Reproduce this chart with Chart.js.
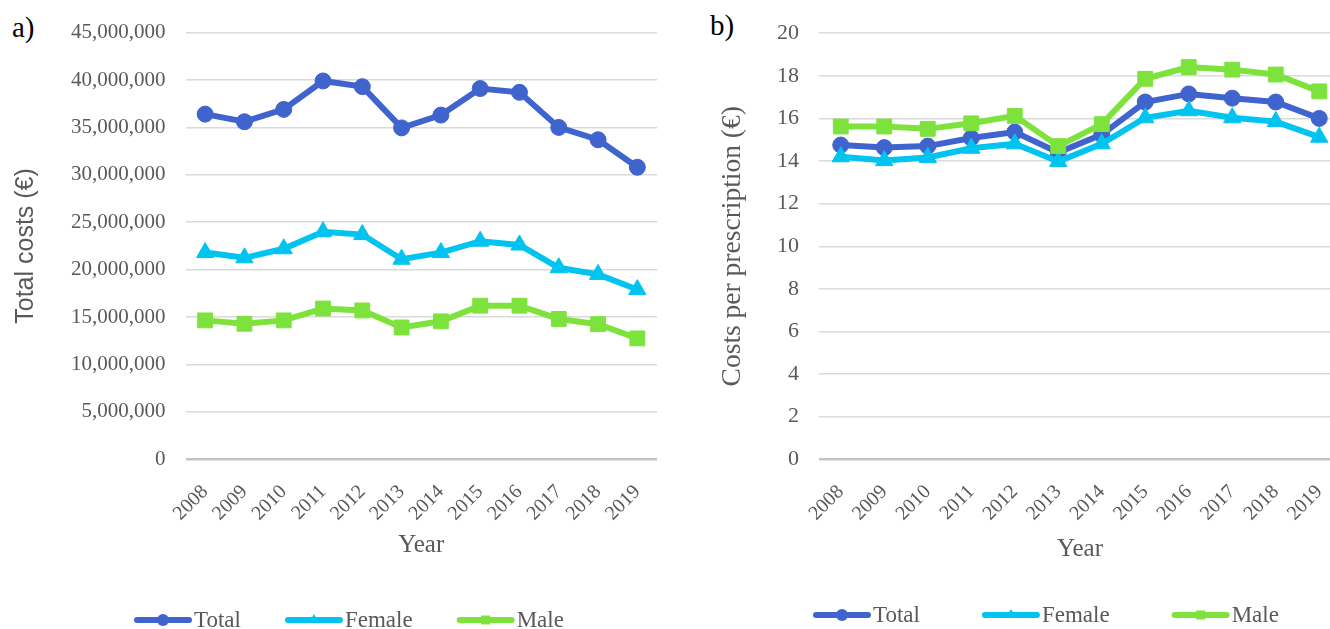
<!DOCTYPE html>
<html>
<head>
<meta charset="utf-8">
<script src="https://cdn.jsdelivr.net/npm/chart.js@4.4.1/dist/chart.umd.min.js"></script>
<style>
  html, body { margin: 0; padding: 0; background: #fff; overflow: hidden; width: 1330px; height: 629px; }
  .panel { position: absolute; top: 0; }
  .tag { position: absolute; font-family: 'Liberation Serif', 'Times New Roman', serif; font-size: 29px; color: #000; }
</style>
</head>
<body>
<div class="tag" style="left:12px; top:11px;">a)</div>
<div class="tag" style="left:710px; top:9px;">b)</div>
<canvas id="costChart" class="panel" width="700" height="629" style="left:0;"></canvas>
<canvas id="perRxChart" class="panel" width="660" height="629" style="left:700px;"></canvas>
<script>
// --- Data ---
const years = ['2008', '2009', '2010', '2011', '2012', '2013', '2014', '2015', '2016', '2017', '2018', '2019'];

// a) total costs (EUR)
const totalCosts  = [36400000, 35600000, 36900000, 39900000, 39300000, 34950000, 36300000, 39100000, 38700000, 35000000, 33700000, 30800000];
const femaleCosts = [21800000, 21250000, 22200000, 24000000, 23700000, 21100000, 21800000, 23000000, 22600000, 20200000, 19500000, 17900000];
const maleCosts   = [14650000, 14300000, 14650000, 15900000, 15700000, 13900000, 14550000, 16200000, 16200000, 14800000, 14250000, 12750000];

// b) costs per prescription (EUR)
const totalPerRx  = [14.75, 14.63, 14.70, 15.08, 15.36, 14.40, 15.24, 16.77, 17.15, 16.95, 16.77, 16.00];
const femalePerRx = [14.20, 14.02, 14.17, 14.60, 14.81, 13.98, 14.81, 16.03, 16.36, 16.03, 15.85, 15.12];
const malePerRx   = [15.62, 15.62, 15.51, 15.77, 16.12, 14.70, 15.73, 17.86, 18.41, 18.29, 18.06, 17.27];

const costTicks = { min: 0, max: 45000000, step: 5000000 };
const perRxTicks = { min: 0, max: 20, step: 2 };

// --- Styles ---
const BLUE = '#4064CE';
const CYAN = '#00C4EF';
const GREEN = '#7DE33C';
const GREY = '#595959';
const SERIF = "'Liberation Serif', 'Times New Roman', serif";
const SANS = "'Liberation Sans', Arial, sans-serif";

function marker(ctx, style, x, y, r) {
    ctx.beginPath();
    if (style === 'circle') {
        ctx.arc(x, y, r, 0, Math.PI * 2);
    } else if (style === 'triangle') {
        ctx.moveTo(x, y - r);
        ctx.lineTo(x + r * 0.866, y + r * 0.5);
        ctx.lineTo(x - r * 0.866, y + r * 0.5);
        ctx.closePath();
    } else {
        ctx.rect(x - r * 0.75, y - r * 0.75, r * 1.5, r * 1.5);
    }
    ctx.fill();
}

// Excel-like legend: line with marker in the middle, then label
const lineLegend = {
    id: 'lineLegend',
    afterDraw(chart, args, opts) {
        const ctx = chart.ctx;
        ctx.save();
        ctx.font = opts.font;
        ctx.textBaseline = 'middle';
        let x = opts.x;
        chart.data.datasets.forEach(ds => {
            ctx.strokeStyle = ds.borderColor;
            ctx.fillStyle = ds.borderColor;
            ctx.lineWidth = 6;
            ctx.lineCap = 'round';
            ctx.beginPath();
            ctx.moveTo(x + 3, opts.y);
            ctx.lineTo(x + opts.iconWidth - 3, opts.y);
            ctx.stroke();
            marker(ctx, ds.pointStyle, x + opts.iconWidth / 2, opts.y, opts.markerRadius);
            ctx.fillStyle = GREY;
            ctx.fillText(ds.label, x + opts.iconWidth + 2, opts.y + 1);
            x += opts.iconWidth + 2 + ctx.measureText(ds.label).width + opts.gap;
        });
        ctx.restore();
    }
};

function makeSeries(label, data, color, style, radius, order) {
    return {
        label,
        data,
        borderColor: color,
        backgroundColor: color,
        pointBackgroundColor: color,
        pointBorderColor: color,
        pointStyle: style,
        pointRadius: radius,
        pointBorderWidth: 1,
        pointHoverRadius: radius,
        borderWidth: 6,
        tension: 0,
        order
    };
}

function makeChart(el, opts) {
    return new Chart(document.getElementById(el), {
        type: 'line',
        data: {
            labels: years,
            datasets: [
                makeSeries('Total', opts.series[0], BLUE, 'circle', 8, 3),
                makeSeries('Female', opts.series[1], CYAN, 'triangle', 10, 2),
                makeSeries('Male', opts.series[2], GREEN, 'rect', 10.5, 1)
            ]
        },
        options: {
            responsive: false,
            animation: false,
            events: [],
            layout: { padding: opts.padding },
            plugins: {
                legend: { display: false },
                tooltip: { enabled: false },
                lineLegend: opts.legend
            },
            scales: {
                x: {
                    offset: true,
                    grid: { display: false },
                    border: { display: false },
                    ticks: {
                        maxRotation: 45,
                        minRotation: 45,
                        padding: 13,
                        color: GREY,
                        font: { family: SERIF, size: 20 }
                    },
                    title: {
                        display: true,
                        text: 'Year',
                        color: GREY,
                        font: { family: SERIF, size: 25 },
                        padding: 0
                    },
                    afterFit: axis => { axis.height = opts.xHeight; }
                },
                y: {
                    min: opts.ticks.min,
                    max: opts.ticks.max,
                    border: { display: false },
                    grid: {
                        drawTicks: false,
                        color: c => c.tick.value === 0 ? '#C4C4C4' : '#DADADA',
                        lineWidth: c => c.tick.value === 0 ? 2.5 : 1.5
                    },
                    ticks: {
                        stepSize: opts.ticks.step,
                        padding: opts.tickPad,
                        color: GREY,
                        font: { family: SERIF, size: opts.tickSize },
                        callback: v => v.toLocaleString('en-US')
                    },
                    title: {
                        display: true,
                        text: opts.yTitle,
                        color: GREY,
                        font: opts.yTitleFont,
                        padding: { top: opts.yTitlePad, bottom: 0 }
                    },
                    afterFit: axis => { axis.width = opts.yWidth; }
                }
            }
        },
        plugins: [lineLegend]
    });
}

makeChart('costChart', {
    series: [totalCosts, femaleCosts, maleCosts],
    ticks: costTicks,
    padding: { left: 8, top: 26.7, right: 43, bottom: 68.6 },
    xHeight: 101.1,
    yWidth: 177.5,
    tickPad: 20,
    tickSize: 21,
    yTitle: 'Total costs (€)',
    yTitleFont: { family: SANS, size: 25 },
    yTitlePad: 3,
    legend: { x: 134, y: 620, iconWidth: 58, gap: 44, markerRadius: 6, font: '23px ' + SERIF }
});

makeChart('perRxChart', {
    series: [totalPerRx, femalePerRx, malePerRx],
    ticks: perRxTicks,
    padding: { left: 8, top: 22.7, right: 19, bottom: 64.6 },
    xHeight: 105.1,
    yWidth: 111,
    tickPad: 20,
    tickSize: 22,
    yTitle: 'Costs per prescription (€)',
    yTitleFont: { family: SERIF, size: 27.5 },
    yTitlePad: 8.5,
    legend: { x: 113, y: 615, iconWidth: 58, gap: 62, markerRadius: 6, font: '23px ' + SERIF }
});
</script>
</body>
</html>
